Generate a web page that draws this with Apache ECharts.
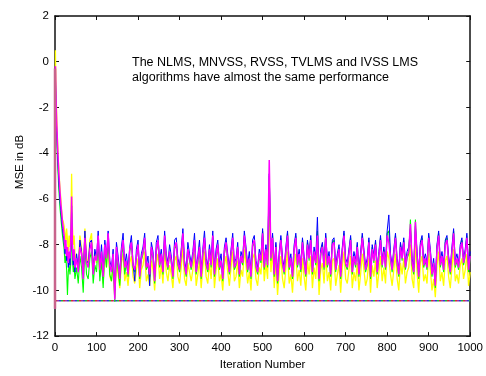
<!DOCTYPE html>
<html>
<head>
<meta charset="utf-8">
<script src="https://cdn.jsdelivr.net/npm/echarts@6/dist/echarts.min.js"></script>
<style>
  html, body { margin: 0; padding: 0; background: #fff; }
  #chart { width: 486px; height: 376px; }
</style>
</head>
<body>
<div id="chart"></div>
<script>
// Iteration indices: dense sampling through the start-up transient, then every 4 iterations.
const earlyIters = [0, 1, 2, 3, 4, 5, 6, 7, 8, 9, 10, 12, 14, 16, 18, 20, 22, 24, 26, 28, 30, 32, 34, 36, 38, 40, 42, 44, 46, 48];
const steadyIters = [];
for (let n = 52; n <= 1000; n += 4) steadyIters.push(n);
const iterations = earlyIters.concat(steadyIters);

const xTicks = [0, 100, 200, 300, 400, 500, 600, 700, 800, 900, 1000];
const yTicks = [-12, -10, -8, -6, -4, -2, 0, 2];

// MSE (dB) learning curves; first row = start-up transient, then rows of 40 iterations
const mseMagenta = [
  -10.8, -0.2, -1.2, -2.0, -2.6, -3.1, -3.6, -4.0, -4.4, -4.8, -5.1, -5.7, -6.2, -6.6, -7.0, -7.3, -7.6, -8.2, -7.8, -8.5, -8.1, -8.8, -8.3, -8.6, -7.9, -5.9, -8.0, -8.7, -8.2, -9.0,
  -8.6, -9.2, -8.1, -8.4, -9.5, -7.7, -8.8, -9.0, -8.2, -7.9,
  -9.3, -8.5, -8.7, -7.6, -9.1, -8.3, -9.4, -8.0, -8.6, -7.5,
  -8.9, -9.2, -8.4, -10.4, -8.1, -8.8, -9.5, -8.3, -7.8, -9.0,
  -8.7, -9.3, -8.2, -7.9, -8.9, -9.1, -8.5, -8.0, -9.4, -8.6,
  -8.3, -7.7, -9.0, -8.8, -9.3, -8.1, -8.5, -9.6, -8.2, -7.8,
  -8.9, -8.4, -9.2, -7.6, -8.6, -9.0, -8.3, -8.7, -9.4, -8.1,
  -7.9, -8.8, -9.1, -8.4, -7.5, -8.9, -9.3, -8.2, -8.6, -9.0,
  -8.5, -7.8, -9.2, -8.7, -8.1, -9.4, -8.4, -7.7, -8.8, -9.1,
  -8.2, -8.9, -7.6, -9.3, -8.5, -8.0, -9.0, -8.7, -9.5, -8.3,
  -7.9, -8.6, -9.2, -8.4, -7.7, -9.0, -8.8, -8.1, -9.3, -8.5,
  -8.8, -7.6, -8.3, -9.1, -8.6, -9.4, -8.0, -7.8, -8.9, -9.2,
  -8.4, -8.7, -7.5, -9.0, -8.2, -8.9, -4.3, -8.6, -7.7, -9.3,
  -8.1, -9.6, -8.5, -7.8, -8.8, -9.2, -8.3, -7.6, -9.0, -8.6,
  -9.4, -8.2, -7.7, -8.9, -8.4, -9.1, -7.9, -8.7, -9.3, -8.0,
  -8.6, -7.8, -9.2, -8.3, -8.8, -7.6, -9.5, -8.4, -8.1, -9.0,
  -7.7, -8.9, -8.5, -9.3, -8.0, -7.9, -9.1, -8.6, -8.2, -9.4,
  -8.3, -7.6, -8.8, -9.0, -8.4, -7.8, -9.2, -8.5, -8.9, -8.1,
  -9.3, -8.6, -7.7, -8.4, -9.1, -8.8, -7.9, -9.4, -8.2, -8.7,
  -8.0, -9.2, -8.5, -7.8, -8.9, -8.3, -9.0, -7.6, -7.9, -8.6,
  -9.1, -8.4, -7.7, -8.8, -9.3, -8.1, -8.6, -7.9, -9.0, -8.5,
  -8.3, -7.1, -8.8, -9.2, -7.0, -8.5, -9.4, -8.1, -7.8, -8.9,
  -8.6, -9.0, -7.7, -8.4, -9.3, -8.8, -9.8, -8.2, -7.6, -8.9,
  -8.5, -9.1, -8.0, -7.8, -8.7, -9.2, -8.3, -7.5, -8.9, -8.6,
  -9.0, -8.2, -7.9, -8.8, -8.4, -7.7, -9.1, -8.5
];
const mseBlue = [
  -10.8, -0.6, -1.6, -2.4, -3.0, -3.5, -4.0, -4.4, -4.8, -5.2, -5.5, -6.1, -6.5, -6.9, -7.3, -7.6, -7.9, -8.4, -8.1, -8.7, -8.4, -9.0, -8.5, -8.9, -8.2, -6.3, -8.3, -8.9, -8.5, -9.2,
  -8.4, -9.0, -7.8, -8.3, -9.3, -7.4, -8.7, -8.8, -7.9, -7.8,
  -9.1, -8.2, -8.6, -7.4, -9.0, -8.0, -9.2, -7.8, -8.5, -7.4,
  -8.7, -9.0, -8.2, -10.0, -7.9, -8.5, -9.3, -8.1, -7.5, -8.9,
  -8.4, -9.1, -8.1, -7.6, -8.8, -9.6, -8.2, -7.8, -9.2, -8.4,
  -8.1, -7.5, -8.9, -8.5, -9.8, -7.9, -8.3, -9.4, -7.9, -7.6,
  -8.7, -8.2, -9.0, -7.4, -8.4, -8.8, -8.0, -8.5, -9.2, -7.8,
  -7.7, -8.6, -8.9, -8.2, -7.3, -8.7, -9.1, -7.9, -8.4, -8.8,
  -8.3, -7.5, -9.0, -8.5, -7.8, -9.2, -8.2, -7.4, -8.6, -8.9,
  -8.0, -8.7, -7.4, -9.1, -8.2, -7.8, -8.8, -8.4, -9.3, -8.1,
  -7.7, -8.4, -9.0, -8.2, -7.5, -8.8, -8.6, -7.9, -9.1, -8.3,
  -8.6, -7.4, -8.1, -8.9, -8.3, -9.2, -7.8, -7.6, -8.7, -9.0,
  -8.2, -8.5, -7.3, -8.8, -8.0, -8.7, -4.9, -8.4, -7.5, -9.1,
  -7.9, -9.4, -8.3, -7.6, -8.6, -9.0, -8.1, -7.4, -8.8, -8.4,
  -9.2, -8.0, -7.5, -8.7, -8.2, -8.9, -7.7, -8.5, -9.1, -7.8,
  -8.4, -7.6, -9.0, -8.1, -8.6, -6.8, -9.3, -8.2, -7.9, -8.8,
  -7.5, -8.7, -8.3, -9.1, -7.8, -7.7, -8.9, -8.4, -8.0, -9.2,
  -8.1, -7.4, -8.6, -8.8, -8.2, -7.6, -9.0, -8.3, -8.7, -7.9,
  -9.1, -8.4, -7.5, -8.2, -8.9, -8.6, -7.7, -9.2, -8.0, -8.5,
  -7.8, -9.0, -8.3, -7.6, -8.7, -8.1, -8.8, -7.4, -6.7, -8.4,
  -8.9, -8.2, -7.5, -8.6, -9.1, -7.9, -8.4, -7.7, -8.8, -8.3,
  -8.1, -7.3, -8.6, -9.0, -7.2, -8.3, -9.2, -7.9, -7.6, -8.7,
  -8.4, -8.8, -7.5, -8.2, -9.1, -8.6, -9.6, -8.0, -7.4, -8.7,
  -8.3, -8.9, -7.8, -7.6, -8.5, -9.0, -8.1, -7.3, -8.7, -8.4,
  -8.8, -8.0, -7.7, -8.6, -8.2, -7.5, -8.9, -8.3
];
const mseYellow = [
  -10.8, 0.5, -0.8, -1.6, -2.3, -2.9, -3.4, -3.8, -4.3, -4.6, -5.0, -5.5, -6.0, -6.5, -6.9, -7.0, -7.2, -7.5, -7.9, -7.3, -7.8, -8.3, -7.6, -8.1, -7.4, -4.9, -7.2, -8.0, -7.6, -8.4,
  -8.4, -9.0, -7.6, -8.2, -9.3, -7.3, -8.5, -8.9, -7.8, -7.5,
  -9.2, -8.4, -8.8, -7.8, -9.4, -8.6, -9.7, -8.3, -9.0, -7.9,
  -9.4, -9.6, -8.9, -10.3, -8.7, -9.3, -9.9, -8.8, -8.4, -9.6,
  -9.2, -9.8, -8.8, -8.5, -9.4, -9.7, -9.1, -8.6, -9.9, -9.1,
  -8.9, -8.3, -9.6, -9.3, -9.8, -8.7, -9.1, -10.0, -8.8, -8.4,
  -9.5, -8.9, -9.7, -8.2, -9.2, -9.6, -8.9, -9.3, -9.9, -8.7,
  -8.5, -9.4, -9.7, -9.0, -8.1, -9.5, -9.8, -8.8, -9.2, -9.6,
  -9.1, -8.4, -9.8, -9.3, -8.7, -9.9, -9.0, -8.3, -9.4, -9.7,
  -8.8, -9.5, -8.2, -9.9, -9.1, -8.6, -9.6, -9.3, -10.0, -8.9,
  -8.5, -9.2, -9.8, -9.0, -8.3, -9.6, -9.4, -8.7, -9.9, -9.1,
  -9.4, -8.2, -8.9, -9.7, -9.2, -10.0, -8.6, -8.4, -9.5, -9.8,
  -9.0, -9.3, -8.1, -9.6, -8.8, -9.5, -6.5, -9.2, -8.3, -9.9,
  -8.8, -10.2, -9.2, -8.5, -9.5, -9.9, -9.0, -8.3, -9.7, -9.3,
  -10.1, -8.9, -8.4, -9.6, -9.1, -9.8, -8.6, -9.4, -10.0, -8.7,
  -9.3, -8.5, -9.9, -9.0, -9.5, -8.3, -10.2, -9.1, -8.8, -9.7,
  -8.4, -9.6, -9.2, -10.0, -8.7, -8.6, -9.8, -9.3, -8.9, -10.1,
  -9.0, -8.3, -9.5, -9.7, -9.1, -8.5, -9.9, -9.2, -9.6, -8.8,
  -10.0, -9.3, -8.4, -9.1, -9.8, -9.5, -8.6, -10.1, -8.9, -9.4,
  -8.7, -9.9, -9.2, -8.5, -9.6, -9.0, -9.7, -8.3, -8.6, -9.3,
  -9.8, -9.1, -8.4, -9.5, -10.0, -8.8, -9.3, -8.6, -9.7, -9.2,
  -9.0, -8.0, -9.5, -9.9, -7.9, -9.2, -10.1, -8.8, -8.5, -9.6,
  -9.3, -9.7, -8.4, -9.1, -10.0, -9.5, -10.3, -8.9, -8.3, -9.6,
  -9.2, -9.8, -8.7, -8.5, -9.4, -9.9, -9.0, -8.2, -9.6, -9.3,
  -9.7, -8.9, -8.6, -9.5, -9.1, -8.4, -9.8, -9.2
];
const mseGreen = [
  -10.8, -0.9, -1.9, -2.7, -3.3, -3.8, -4.3, -4.7, -5.1, -5.5, -5.8, -6.4, -6.8, -7.2, -7.6, -7.9, -8.2, -8.8, -8.5, -9.1, -10.2, -9.2, -8.9, -9.3, -8.8, -6.6, -8.6, -9.2, -8.9, -9.5,
  -9.0, -9.7, -8.5, -9.0, -10.1, -8.1, -9.3, -9.5, -8.6, -8.3,
  -9.7, -8.9, -9.2, -7.9, -9.6, -8.7, -9.9, -8.3, -9.0, -7.8,
  -9.3, -9.6, -8.8, -10.5, -8.4, -9.1, -9.8, -8.6, -8.0, -9.3,
  -8.8, -9.4, -8.3, -8.0, -9.0, -9.2, -8.6, -8.1, -9.5, -8.7,
  -8.4, -7.8, -9.1, -8.9, -9.4, -8.2, -8.6, -9.7, -8.3, -7.9,
  -9.0, -8.5, -9.3, -7.7, -8.7, -9.1, -8.4, -8.8, -9.5, -8.2,
  -8.0, -8.9, -9.2, -8.5, -7.6, -9.0, -9.4, -8.3, -8.7, -9.1,
  -8.6, -7.9, -9.3, -8.8, -8.2, -9.5, -8.5, -7.8, -8.9, -9.2,
  -8.3, -9.0, -7.7, -9.4, -8.6, -8.1, -9.1, -8.8, -9.6, -8.4,
  -8.0, -8.7, -9.3, -8.5, -7.8, -9.1, -8.9, -8.2, -9.4, -8.6,
  -8.9, -7.7, -8.4, -9.2, -8.7, -9.5, -8.1, -7.9, -9.0, -9.3,
  -8.5, -8.8, -7.4, -9.1, -8.3, -9.0, -5.0, -8.7, -7.6, -9.4,
  -8.0, -9.7, -8.6, -7.7, -8.9, -9.3, -8.4, -7.5, -9.1, -8.7,
  -9.5, -8.3, -7.6, -9.0, -8.5, -9.2, -7.8, -8.8, -9.4, -7.9,
  -8.7, -7.7, -9.3, -8.4, -8.9, -7.4, -9.6, -8.5, -8.0, -9.1,
  -7.6, -9.0, -8.6, -9.4, -7.9, -7.8, -9.2, -8.7, -8.1, -9.5,
  -8.2, -7.5, -8.9, -9.1, -8.3, -7.7, -9.3, -8.6, -9.0, -8.0,
  -9.4, -8.5, -7.6, -8.5, -9.2, -8.9, -7.8, -9.5, -8.1, -8.8,
  -7.9, -9.3, -8.6, -7.7, -9.0, -8.2, -9.1, -7.5, -7.4, -8.7,
  -9.2, -8.5, -7.6, -8.9, -9.4, -8.0, -8.7, -7.8, -9.1, -8.6,
  -8.4, -6.9, -8.9, -9.3, -6.9, -8.6, -9.5, -8.0, -7.7, -9.0,
  -8.7, -9.1, -7.6, -8.5, -9.4, -8.9, -9.9, -8.1, -7.5, -9.0,
  -8.6, -9.2, -7.9, -7.7, -8.8, -9.3, -8.4, -7.4, -9.0, -8.7,
  -9.1, -8.3, -7.8, -8.9, -8.5, -7.6, -9.2, -8.6
];

// Minimum (steady-state) MSE level and the start-up jump at iteration 0
const minMse = -10.45;
const startJump = [-10.8, -0.3];

const pairs = vals => iterations.map((n, i) => [n, vals[i]]);

const FONT = 'Liberation Sans';

const curve = (vals, color, width, z) => ({
  type: 'line', data: pairs(vals), showSymbol: false, symbol: 'none', animation: false,
  lineStyle: { color: color, width: width }, z: z
});

// multicoloured dotted floor: four interleaved dash patterns
const floorLine = (color, offset) => ({
  type: 'line', data: [[xTicks[0], minMse], [xTicks[xTicks.length - 1], minMse]],
  showSymbol: false, symbol: 'none', animation: false,
  lineStyle: { color: color, width: 1.5, type: [2, 6], dashOffset: offset }, z: 2
});

const axisCommon = {
  axisLine: { show: true, onZero: false, lineStyle: { color: '#111', width: 1.5 } },
  axisTick: { show: true, inside: true, length: 4, lineStyle: { color: '#111', width: 1 } },
  splitLine: { show: false }
};

const chart = echarts.init(document.getElementById('chart'), null, { renderer: 'canvas' });
chart.setOption({
  animation: false,
  backgroundColor: '#fff',
  grid: { left: 55, right: 14, top: 16, bottom: 32, containLabel: false },
  xAxis: [
    Object.assign({
      type: 'value', position: 'bottom', min: xTicks[0], max: xTicks[xTicks.length - 1], interval: 100,
      name: 'Iteration Number', nameLocation: 'middle', nameGap: 20,
      nameTextStyle: { fontFamily: FONT, fontSize: 11.5, color: '#000' },
      axisLabel: { fontFamily: FONT, fontSize: 11.5, color: '#000', margin: 6, formatter: v => String(v) }
    }, axisCommon),
    Object.assign({
      type: 'value', position: 'top', min: xTicks[0], max: xTicks[xTicks.length - 1], interval: 100,
      axisLabel: { show: false }
    }, axisCommon)
  ],
  yAxis: [
    Object.assign({
      type: 'value', position: 'left', min: yTicks[0], max: yTicks[yTicks.length - 1], interval: 2,
      axisLabel: { fontFamily: FONT, fontSize: 11.5, color: '#000', margin: 6, formatter: v => String(v) }
    }, axisCommon),
    Object.assign({
      type: 'value', position: 'right', min: yTicks[0], max: yTicks[yTicks.length - 1], interval: 2,
      axisLabel: { show: false }
    }, axisCommon)
  ],
  series: [
    floorLine('#d03030', 0),
    floorLine('#20b040', 2),
    floorLine('#3040d0', 4),
    floorLine('#a030b0', 6),
    curve(mseYellow, '#ffff00', 1.3, 3),
    curve(mseGreen, '#00ff00', 1.1, 4),
    curve(mseBlue, '#0000ff', 1.0, 5),
    curve(mseMagenta, '#ff00ff', 1.5, 6),
    {
      type: 'line', data: [[0, startJump[0]], [0, startJump[1]]], showSymbol: false, symbol: 'none',
      animation: false, lineStyle: { color: '#c8648c', width: 2.5 }, z: 7
    }
  ],
  graphic: [
    {
      type: 'text', left: 132, top: 55,
      style: { text: 'The NLMS, MNVSS, RVSS, TVLMS and IVSS LMS\nalgorithms have almost the same performance',
               font: '12.5px "Liberation Sans"', fill: '#000', lineHeight: 15 }
    },
    {
      type: 'text', x: 20, y: 162, rotation: Math.PI / 2, originX: 0, originY: 0,
      style: { text: 'MSE in dB', font: '11.5px "Liberation Sans"', fill: '#000', align: 'center', verticalAlign: 'middle' }
    }
  ]
});
</script>
</body>
</html>
